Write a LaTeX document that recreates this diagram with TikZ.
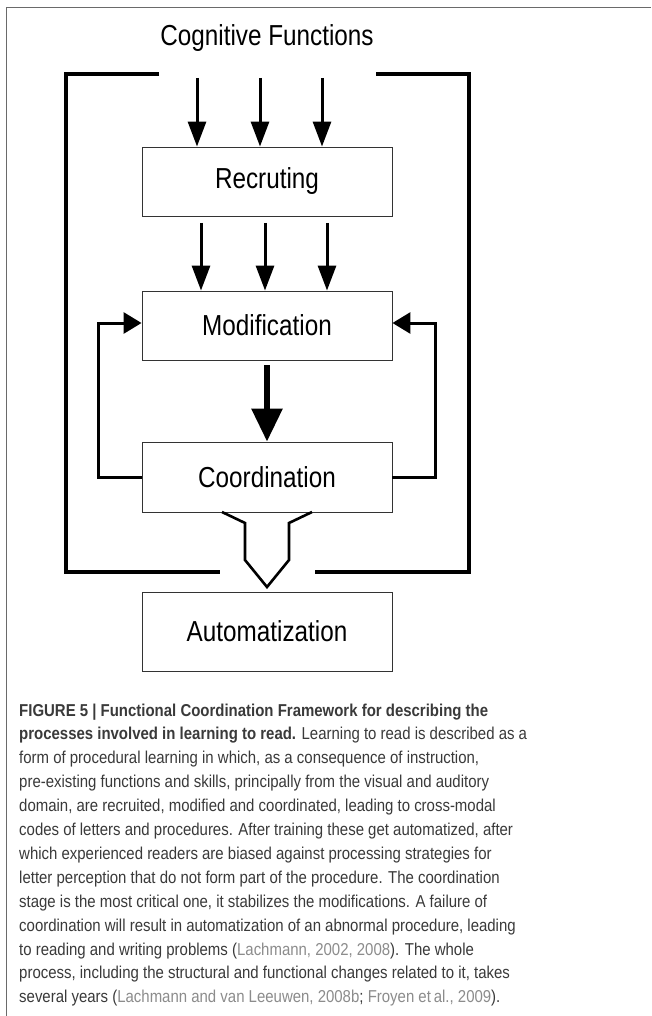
\documentclass[tikz,border=0pt]{standalone}
\usepackage{fontspec}
\setmainfont{Liberation Sans}
\newfontfamily\diagfont[FakeStretch=0.84]{Liberation Sans}
\newfontfamily\captfont[FakeStretch=0.87]{Liberation Sans}
\usetikzlibrary{arrows.meta}
\definecolor{captgray}{HTML}{3A3A3A}
\definecolor{refgray}{HTML}{8C8C8C}
\definecolor{framegray}{HTML}{6A6A6A}
\tikzset{
  stagebox/.style={draw=black!80, line width=0.9pt, minimum width=250pt, inner sep=0pt,
    font=\diagfont\fontsize{28.9}{34}\selectfont},
  arr/.style={line width=3pt, -{Triangle[length=25pt,width=18pt]}},
  fbarr/.style={line width=3pt, -{Triangle[length=18pt,width=21pt]}},
  bigarr/.style={line width=6pt, -{Triangle[length=33pt,width=30pt]}},
  bracket/.style={line width=3.2pt},
  funnel/.style={line width=2.6pt, line join=miter},
  captline/.style={anchor=base west, inner sep=0pt, text=captgray,
    font=\captfont\fontsize{17.2}{23.9}\selectfont}
}
\begin{document}
\begin{tikzpicture}[x=1pt,y=-1pt]
\useasboundingbox (0,0) rectangle (651,1016);
\fill[white] (0,0) rectangle (651,1016);
% outer frame
\draw[framegray, line width=1pt] (6,1016) -- (6,8) -- (651,8);

% nodes
\node (cog) at (267,38) {\diagfont\fontsize{28.9}{34}\selectfont Cognitive Functions};
\node[stagebox, minimum height=69pt] (rec) at (267,181.5) {Recruting};
\node[stagebox, minimum height=69pt] (mod) at (267,325.5) {Modification};
\node[stagebox, minimum height=70pt] (coord) at (267,477) {Coordination};
\node[stagebox, minimum height=79pt] (auto) at (267,631.5) {Automatization};

% arrows cognitive -> recruting
\foreach \x in {197,260,322}{
  \draw[arr] (\x,78) -- (\x,143 |- rec.north);
}
% arrows recruting -> modification
\foreach \x in {201,265,327}{
  \draw[arr] (\x,223) -- (\x,287 |- mod.north);
}
% thick arrow modification -> coordination
\draw[bigarr] (mod.south) ++(0,5) -- (coord.north);

% feedback loops
\coordinate (fl) at (98,323);
\coordinate (fr) at (435,323);
\draw[fbarr] (coord.west) -| (fl) -- (mod.west |- fl);
\draw[fbarr] (coord.east) -| (fr) -- (mod.east |- fr);

% brackets
\coordinate (bl1) at (159,74);
\coordinate (bl2) at (220,572);
\coordinate (br1) at (376,74);
\coordinate (br2) at (315,572);
\draw[bracket] (bl1) -- (66,74) -- (66,572) -- (bl2);
\draw[bracket] (br1) -- (469,74) -- (469,572) -- (br2);

% funnel coordination -> automatization
\draw[funnel] (222,512) -- (245,523) -- (245,560) -- (267,587) -- (289,560) -- (289,523) -- (312,512);

% caption
\node[captline] (c1) at (19,716) {\textbf{FIGURE 5 | Functional Coordination Framework for describing the}};
\node[captline] (c2) at (19,739.9) {\textbf{processes involved in learning to read.} Learning to read is described as a};
\node[captline] (c3) at (19,763.8) {form of procedural learning in which, as a consequence of instruction,};
\node[captline] (c4) at (19,787.7) {pre-existing functions and skills, principally from the visual and auditory};
\node[captline] (c5) at (19,811.6) {domain, are recruited, modified and coordinated, leading to cross-modal};
\node[captline] (c6) at (19,835.5) {codes of letters and procedures. After training these get automatized, after};
\node[captline] (c7) at (19,859.4) {which experienced readers are biased against processing strategies for};
\node[captline] (c8) at (19,883.3) {letter perception that do not form part of the procedure. The coordination};
\node[captline] (c9) at (19,907.2) {stage is the most critical one, it stabilizes the modifications. A failure of};
\node[captline] (c10) at (19,931.1) {coordination will result in automatization of an abnormal procedure, leading};
\node[captline] (c11) at (19,955.0) {to reading and writing problems ({\color{refgray}Lachmann, 2002, 2008}). The whole};
\node[captline] (c12) at (19,978.9) {process, including the structural and functional changes related to it, takes};
\node[captline] (c13) at (19,1002.8) {several years ({\color{refgray}Lachmann and van Leeuwen, 2008b}; {\color{refgray}Froyen et\,al., 2009}).};
\end{tikzpicture}
\end{document}
